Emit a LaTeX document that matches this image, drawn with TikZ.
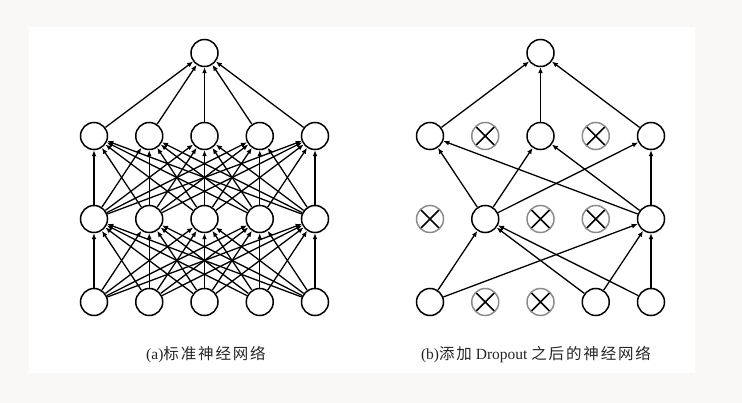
\documentclass[tikz,border=0pt]{standalone}
\usepackage{fontspec}
\setmainfont{Liberation Serif}
\newfontfamily\cjk[LetterSpace=12]{Noto Sans CJK SC}
\usetikzlibrary{arrows.meta}
\definecolor{pagegray}{HTML}{F9F8F6}

\begin{document}
\begin{tikzpicture}[x=1pt,y=-1pt,font=\fontsize{15.5}{18}\selectfont,
  unit/.style={circle,draw=black,line width=1.5pt,fill=white,minimum size=27pt,inner sep=0pt},
  dropped/.style={unit,draw=black!45,path picture={
    \draw[black,line width=1.6pt] (path picture bounding box.north west) -- (path picture bounding box.south east)
      (path picture bounding box.north east) -- (path picture bounding box.south west);}},
  arrow/.style={-{Latex[length=6pt,width=5pt]},line width=1.3pt},
  caption/.style={text=black!85,inner sep=0pt}]
% page
\fill[pagegray] (0,0) rectangle (742,403);
\fill[white] (29,27) rectangle (695,373);
\useasboundingbox (0,0) rectangle (742,403);

% (a) standard network
\foreach \i in {1,...,5} {
  \node[unit] (a-in-\i) at ({94+55.25*(\i-1)},302) {};
  \node[unit] (a-h1-\i) at ({94+55.25*(\i-1)},219) {};
  \node[unit] (a-h2-\i) at ({94+55.25*(\i-1)},136) {};
}
\node[unit] (a-out) at (204.5,53) {};
\foreach \i in {1,...,5} {
  \foreach \j in {1,...,5} {
    \draw[arrow] (a-in-\i) -- (a-h1-\j);
    \draw[arrow] (a-h1-\i) -- (a-h2-\j);
  }
  \draw[arrow] (a-h2-\i) -- (a-out);
}

% (b) after dropout
\foreach \i in {1,4,5} \node[unit] (b-in-\i) at ({430+55.25*(\i-1)},302) {};
\foreach \i in {2,3} \node[dropped] (b-in-\i) at ({430+55.25*(\i-1)},302) {};
\foreach \i in {2,5} \node[unit] (b-h1-\i) at ({430+55.25*(\i-1)},219) {};
\foreach \i in {1,3,4} \node[dropped] (b-h1-\i) at ({430+55.25*(\i-1)},219) {};
\foreach \i in {1,3,5} \node[unit] (b-h2-\i) at ({430+55.25*(\i-1)},136) {};
\foreach \i in {2,4} \node[dropped] (b-h2-\i) at ({430+55.25*(\i-1)},136) {};
\node[unit] (b-out) at (540.5,53) {};
\foreach \i in {1,4,5} {
  \draw[arrow] (b-in-\i) -- (b-h1-2);
  \draw[arrow] (b-in-\i) -- (b-h1-5);
}
\foreach \i in {2,5} {
  \foreach \j in {1,3,5} \draw[arrow] (b-h1-\i) -- (b-h2-\j);
}
\foreach \j in {1,3,5} \draw[arrow] (b-h2-\j) -- (b-out);

% captions
\node[caption] (cap-a) at (206,355) {(a)\cjk 标准神经网络};
\node[caption] (cap-b) at (536,355) {(b){\cjk 添加} Dropout {\cjk 之后的神经网络}};
\end{tikzpicture}
\end{document}
